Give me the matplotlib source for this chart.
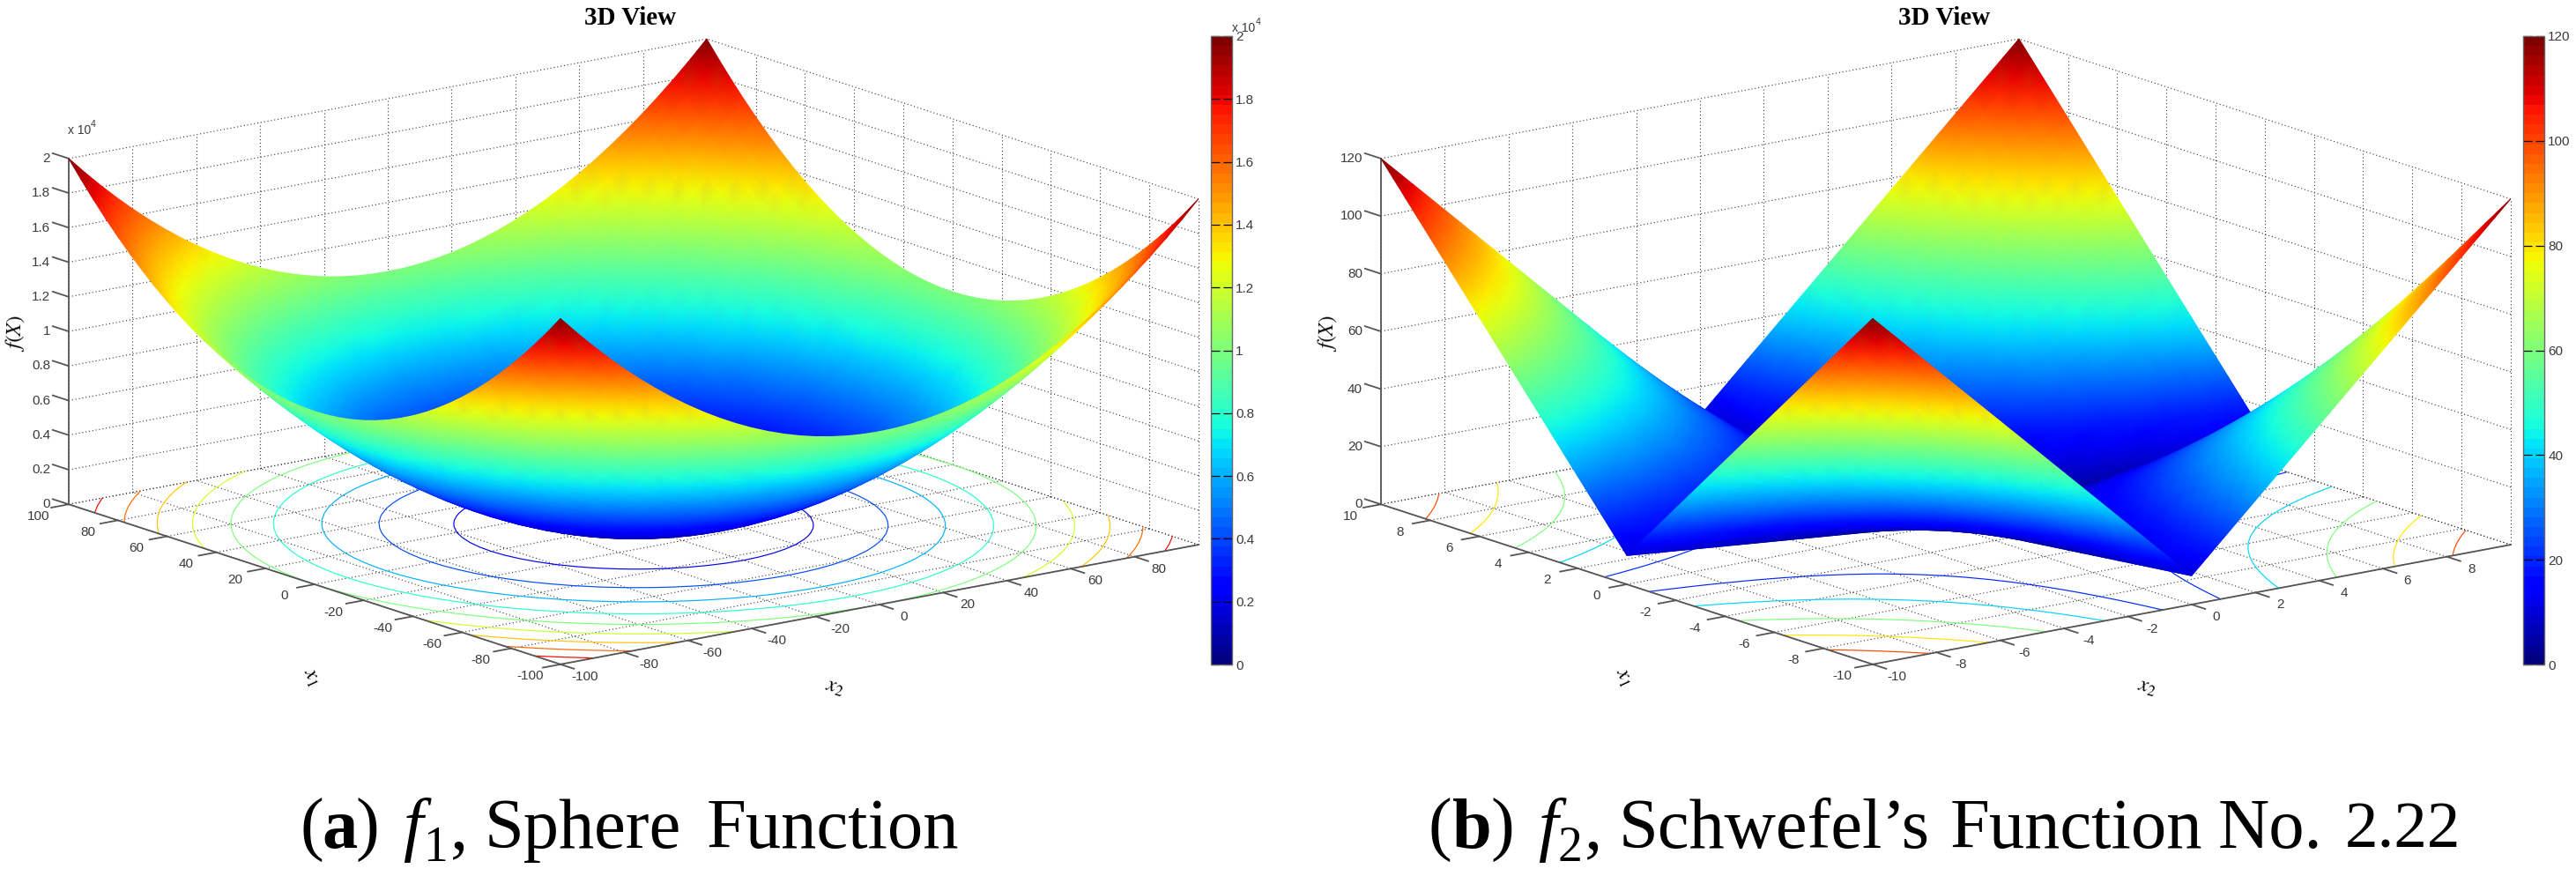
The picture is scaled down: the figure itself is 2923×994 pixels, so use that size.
import numpy as np
import matplotlib
matplotlib.use("Agg")
import matplotlib.pyplot as plt
from matplotlib.cm import ScalarMappable
from matplotlib.colors import Normalize
from matplotlib.tri import Triangulation
from mpl_toolkits.mplot3d import proj3d

W, H = 2923, 994

plt.rcParams['font.family'] = ['Liberation Sans', 'DejaVu Sans']
plt.rcParams['mathtext.fontset'] = 'stix'

# one quadrant (rows x1 >= 0, columns x2 >= 0), the picture is symmetric
grid_f1 = [0, 5, 10, 15, 20, 25, 30, 35, 40, 45, 50, 55, 60, 65, 70, 75, 80, 85, 90, 95, 100]
values_f1 = [
    [0, 25, 100, 225, 400, 625, 900, 1225, 1600, 2025, 2500, 3025, 3600, 4225, 4900, 5625, 6400, 7225, 8100, 9025, 10000],
    [25, 50, 125, 250, 425, 650, 925, 1250, 1625, 2050, 2525, 3050, 3625, 4250, 4925, 5650, 6425, 7250, 8125, 9050, 10025],
    [100, 125, 200, 325, 500, 725, 1000, 1325, 1700, 2125, 2600, 3125, 3700, 4325, 5000, 5725, 6500, 7325, 8200, 9125, 10100],
    [225, 250, 325, 450, 625, 850, 1125, 1450, 1825, 2250, 2725, 3250, 3825, 4450, 5125, 5850, 6625, 7450, 8325, 9250, 10225],
    [400, 425, 500, 625, 800, 1025, 1300, 1625, 2000, 2425, 2900, 3425, 4000, 4625, 5300, 6025, 6800, 7625, 8500, 9425, 10400],
    [625, 650, 725, 850, 1025, 1250, 1525, 1850, 2225, 2650, 3125, 3650, 4225, 4850, 5525, 6250, 7025, 7850, 8725, 9650, 10625],
    [900, 925, 1000, 1125, 1300, 1525, 1800, 2125, 2500, 2925, 3400, 3925, 4500, 5125, 5800, 6525, 7300, 8125, 9000, 9925, 10900],
    [1225, 1250, 1325, 1450, 1625, 1850, 2125, 2450, 2825, 3250, 3725, 4250, 4825, 5450, 6125, 6850, 7625, 8450, 9325, 10250, 11225],
    [1600, 1625, 1700, 1825, 2000, 2225, 2500, 2825, 3200, 3625, 4100, 4625, 5200, 5825, 6500, 7225, 8000, 8825, 9700, 10625, 11600],
    [2025, 2050, 2125, 2250, 2425, 2650, 2925, 3250, 3625, 4050, 4525, 5050, 5625, 6250, 6925, 7650, 8425, 9250, 10125, 11050, 12025],
    [2500, 2525, 2600, 2725, 2900, 3125, 3400, 3725, 4100, 4525, 5000, 5525, 6100, 6725, 7400, 8125, 8900, 9725, 10600, 11525, 12500],
    [3025, 3050, 3125, 3250, 3425, 3650, 3925, 4250, 4625, 5050, 5525, 6050, 6625, 7250, 7925, 8650, 9425, 10250, 11125, 12050, 13025],
    [3600, 3625, 3700, 3825, 4000, 4225, 4500, 4825, 5200, 5625, 6100, 6625, 7200, 7825, 8500, 9225, 10000, 10825, 11700, 12625, 13600],
    [4225, 4250, 4325, 4450, 4625, 4850, 5125, 5450, 5825, 6250, 6725, 7250, 7825, 8450, 9125, 9850, 10625, 11450, 12325, 13250, 14225],
    [4900, 4925, 5000, 5125, 5300, 5525, 5800, 6125, 6500, 6925, 7400, 7925, 8500, 9125, 9800, 10525, 11300, 12125, 13000, 13925, 14900],
    [5625, 5650, 5725, 5850, 6025, 6250, 6525, 6850, 7225, 7650, 8125, 8650, 9225, 9850, 10525, 11250, 12025, 12850, 13725, 14650, 15625],
    [6400, 6425, 6500, 6625, 6800, 7025, 7300, 7625, 8000, 8425, 8900, 9425, 10000, 10625, 11300, 12025, 12800, 13625, 14500, 15425, 16400],
    [7225, 7250, 7325, 7450, 7625, 7850, 8125, 8450, 8825, 9250, 9725, 10250, 10825, 11450, 12125, 12850, 13625, 14450, 15325, 16250, 17225],
    [8100, 8125, 8200, 8325, 8500, 8725, 9000, 9325, 9700, 10125, 10600, 11125, 11700, 12325, 13000, 13725, 14500, 15325, 16200, 17125, 18100],
    [9025, 9050, 9125, 9250, 9425, 9650, 9925, 10250, 10625, 11050, 11525, 12050, 12625, 13250, 13925, 14650, 15425, 16250, 17125, 18050, 19025],
    [10000, 10025, 10100, 10225, 10400, 10625, 10900, 11225, 11600, 12025, 12500, 13025, 13600, 14225, 14900, 15625, 16400, 17225, 18100, 19025, 20000],
]
ticks_f1 = [-100, -80, -60, -40, -20, 0, 20, 40, 60, 80, 100]
zticks_f1 = [0, 2000, 4000, 6000, 8000, 10000, 12000, 14000, 16000, 18000, 20000]
zlabels_f1 = ['0', '0.2', '0.4', '0.6', '0.8', '1', '1.2', '1.4', '1.6', '1.8', '2']
levels_f1 = [2000, 4000, 6000, 8000, 10000, 12000, 14000, 16000, 18000]

grid_f2 = [0, 0.5, 1, 1.5, 2, 2.5, 3, 3.5, 4, 4.5, 5, 5.5, 6, 6.5, 7, 7.5, 8, 8.5, 9, 9.5, 10]
values_f2 = [
    [0, 0.5, 1, 1.5, 2, 2.5, 3, 3.5, 4, 4.5, 5, 5.5, 6, 6.5, 7, 7.5, 8, 8.5, 9, 9.5, 10],
    [0.5, 1.25, 2, 2.75, 3.5, 4.25, 5, 5.75, 6.5, 7.25, 8, 8.75, 9.5, 10.25, 11, 11.75, 12.5, 13.25, 14, 14.75, 15.5],
    [1, 2, 3, 4, 5, 6, 7, 8, 9, 10, 11, 12, 13, 14, 15, 16, 17, 18, 19, 20, 21],
    [1.5, 2.75, 4, 5.25, 6.5, 7.75, 9, 10.25, 11.5, 12.75, 14, 15.25, 16.5, 17.75, 19, 20.25, 21.5, 22.75, 24, 25.25, 26.5],
    [2, 3.5, 5, 6.5, 8, 9.5, 11, 12.5, 14, 15.5, 17, 18.5, 20, 21.5, 23, 24.5, 26, 27.5, 29, 30.5, 32],
    [2.5, 4.25, 6, 7.75, 9.5, 11.25, 13, 14.75, 16.5, 18.25, 20, 21.75, 23.5, 25.25, 27, 28.75, 30.5, 32.25, 34, 35.75, 37.5],
    [3, 5, 7, 9, 11, 13, 15, 17, 19, 21, 23, 25, 27, 29, 31, 33, 35, 37, 39, 41, 43],
    [3.5, 5.75, 8, 10.25, 12.5, 14.75, 17, 19.25, 21.5, 23.75, 26, 28.25, 30.5, 32.75, 35, 37.25, 39.5, 41.75, 44, 46.25, 48.5],
    [4, 6.5, 9, 11.5, 14, 16.5, 19, 21.5, 24, 26.5, 29, 31.5, 34, 36.5, 39, 41.5, 44, 46.5, 49, 51.5, 54],
    [4.5, 7.25, 10, 12.75, 15.5, 18.25, 21, 23.75, 26.5, 29.25, 32, 34.75, 37.5, 40.25, 43, 45.75, 48.5, 51.25, 54, 56.75, 59.5],
    [5, 8, 11, 14, 17, 20, 23, 26, 29, 32, 35, 38, 41, 44, 47, 50, 53, 56, 59, 62, 65],
    [5.5, 8.75, 12, 15.25, 18.5, 21.75, 25, 28.25, 31.5, 34.75, 38, 41.25, 44.5, 47.75, 51, 54.25, 57.5, 60.75, 64, 67.25, 70.5],
    [6, 9.5, 13, 16.5, 20, 23.5, 27, 30.5, 34, 37.5, 41, 44.5, 48, 51.5, 55, 58.5, 62, 65.5, 69, 72.5, 76],
    [6.5, 10.25, 14, 17.75, 21.5, 25.25, 29, 32.75, 36.5, 40.25, 44, 47.75, 51.5, 55.25, 59, 62.75, 66.5, 70.25, 74, 77.75, 81.5],
    [7, 11, 15, 19, 23, 27, 31, 35, 39, 43, 47, 51, 55, 59, 63, 67, 71, 75, 79, 83, 87],
    [7.5, 11.75, 16, 20.25, 24.5, 28.75, 33, 37.25, 41.5, 45.75, 50, 54.25, 58.5, 62.75, 67, 71.25, 75.5, 79.75, 84, 88.25, 92.5],
    [8, 12.5, 17, 21.5, 26, 30.5, 35, 39.5, 44, 48.5, 53, 57.5, 62, 66.5, 71, 75.5, 80, 84.5, 89, 93.5, 98],
    [8.5, 13.25, 18, 22.75, 27.5, 32.25, 37, 41.75, 46.5, 51.25, 56, 60.75, 65.5, 70.25, 75, 79.75, 84.5, 89.25, 94, 98.75, 103.5],
    [9, 14, 19, 24, 29, 34, 39, 44, 49, 54, 59, 64, 69, 74, 79, 84, 89, 94, 99, 104, 109],
    [9.5, 14.75, 20, 25.25, 30.5, 35.75, 41, 46.25, 51.5, 56.75, 62, 67.25, 72.5, 77.75, 83, 88.25, 93.5, 98.75, 104, 109.25, 114.5],
    [10, 15.5, 21, 26.5, 32, 37.5, 43, 48.5, 54, 59.5, 65, 70.5, 76, 81.5, 87, 92.5, 98, 103.5, 109, 114.5, 120],
]
ticks_f2 = [-10, -8, -6, -4, -2, 0, 2, 4, 6, 8, 10]
zticks_f2 = [0, 20, 40, 60, 80, 100, 120]
zlabels_f2 = ['0', '20', '40', '60', '80', '100', '120']
levels_f2 = [20, 40, 60, 80, 100]

TEXT = '#3a3a3a'
AXIS = '#555555'
GRID = '#333333'
DOTS = (0, (1, 2.5))


def px_text(x, y, s, **kw):
    kw.setdefault('color', 'black')
    return fig.text(x / W, 1 - y / H, s, **kw)


def draw_panel(off, grid, values, ticks, zticks, zlabels, levels):
    # mirror the quadrant into the whole surface
    q = np.array(values, dtype=float)
    half = np.array(grid, dtype=float)
    x = np.hstack([-half[:0:-1], half])
    row = np.hstack([q[:, :0:-1], q])
    Z = np.vstack([row[:0:-1], row])
    X1, X2 = np.meshgrid(x, x, indexing='ij')
    xmax = ticks[-1]
    zmax = zticks[-1]
    ux = xmax / 100  # data units per "percent" of the floor
    uz = zmax / 392  # data units per pixel of height

    side = 1400
    rect = [off / W, (595 - 0.5135 * side) / H, side / W, side / H]
    ax = fig.add_axes(rect, projection='3d', computed_zorder=False, proj_type='ortho')
    ax.set_axis_off()
    ax.patch.set_visible(False)
    ax.view_init(elev=14.3, azim=-37.2)
    ax.set_box_aspect((923, 909, 405), zoom=0.941)

    ax.contour(X1, X2, Z, levels=levels, cmap='jet', vmin=0, vmax=zmax,
               zdir='z', offset=0, linewidths=0.85, zorder=2)

    dotted = dict(color=GRID, lw=0.8, ls=DOTS, zorder=1)
    for t in ticks:
        # floor and walls, x1 lines then x2 lines
        ax.plot([t, t], [-xmax, xmax], [0, 0], **dotted)
        ax.plot([t, t], [xmax, xmax], [0, zmax], **dotted)
        ax.plot([-xmax, xmax], [t, t], [0, 0], **dotted)
        ax.plot([xmax, xmax], [t, t], [0, zmax], **dotted)
    for t in zticks:
        ax.plot([xmax, xmax], [-xmax, xmax], [t, t], **dotted)
        ax.plot([-xmax, xmax], [xmax, xmax], [t, t], **dotted)

    # solid axes in front
    solid = dict(color=AXIS, lw=1.3, zorder=3)
    ax.plot([xmax, -xmax], [-xmax, -xmax], [0, 0], **solid)
    ax.plot([-xmax, -xmax], [-xmax, xmax], [0, 0], **solid)
    ax.plot([xmax, xmax], [-xmax, -xmax], [0, zmax], **solid)

    # tick marks
    for t in ticks:
        ax.plot([t, t], [-xmax, -xmax - 5.5 * ux], [0, 0], **solid)
        if t < xmax:
            ax.plot([-xmax, -xmax - 5.5 * ux], [t, t], [0, 0], **solid)
    for t in zticks:
        ax.plot([xmax, xmax + 6.5 * ux], [-xmax, -xmax], [t, t], **solid)

    ax.set_xlim(xmax, -xmax, view_margin=0)
    ax.set_ylim(-xmax, xmax, view_margin=0)
    ax.set_zlim(0, zmax, view_margin=0)
    ax.set_xticks([])
    ax.set_yticks([])
    ax.set_zticks([])

    # surface with vertex colours, drawn back to front on a 2d overlay
    M = ax.get_proj()
    sx, sy, sz = proj3d.proj_transform(X1.ravel(), X2.ravel(), Z.ravel(), M)
    n = len(x)
    idx = np.arange(n * n).reshape(n, n)
    a, b, c, d = idx[:-1, :-1].ravel(), idx[1:, :-1].ravel(), idx[1:, 1:].ravel(), idx[:-1, 1:].ravel()
    tris = np.vstack([np.column_stack([a, b, c]), np.column_stack([a, c, d])])
    tris = tris[np.argsort(-sz[tris].mean(axis=1))]

    over = fig.add_axes(rect)
    over.set_xlim(*ax.viewLim.intervalx)
    over.set_ylim(*ax.viewLim.intervaly)
    over.set_xticks([])
    over.set_yticks([])
    over.set_axis_off()
    over.patch.set_visible(False)
    over.tripcolor(Triangulation(sx, sy, tris), Z.ravel(), shading='gouraud',
                   cmap='jet', vmin=0, vmax=zmax)

    # tick labels, projected so they sit on the overlay as plain text
    def label(x1, x2, z, s, ha='center'):
        tx, ty, _ = proj3d.proj_transform(x1, x2, z, M)
        over.text(float(tx), float(ty), s, color=TEXT, fontsize=11, ha=ha, va='center')

    for t in ticks:
        label(t, -xmax - 9.5 * ux, -7 * uz, str(t))
        if t < xmax:
            label(-xmax - 10 * ux, t, -5 * uz, str(t))
    for t, lab in zip(zticks, zlabels):
        label(xmax + 7.5 * ux, -xmax, t - 7 * uz, lab, ha='right')

    # colorbar
    cax = fig.add_axes([(1374 + off) / W, 1 - 754 / H, 24 / W, 713 / H])
    sm = ScalarMappable(Normalize(0, zmax), plt.get_cmap('jet', 64))
    cb = fig.colorbar(sm, cax=cax)
    cb.set_ticks(zticks, labels=zlabels)
    cb.outline.set_edgecolor('#666666')
    cb.outline.set_linewidth(1.0)
    cax.tick_params(direction='in', left=True, right=True, length=7, width=0.9,
                    color='black', labelcolor=TEXT, labelsize=11, pad=3)
    return ax


fig = plt.figure(figsize=(W / 100, H / 100), dpi=100, facecolor='white')

draw_panel(0, grid_f1, values_f1, ticks_f1, zticks_f1, zlabels_f1, levels_f1)
draw_panel(1489, grid_f2, values_f2, ticks_f2, zticks_f2, zlabels_f2, levels_f2)

# titles and axis names
for off, cx in [(0, 715), (1489, 2206)]:
    px_text(cx, 28, '3D View', family='Liberation Serif', weight='bold', fontsize=21,
            ha='center', va='baseline')
    px_text(18 + off, 378, '$f(X)$', fontsize=17, rotation=88, ha='center', va='center')
    px_text(353 + off, 768, '$x_1$', fontsize=17, rotation=-65, ha='center', va='center')
    px_text(947 + off, 780, '$x_2$', fontsize=17, rotation=-15, ha='center', va='center')

# the x 10^4 scale marks of the left panel
px_text(77, 152, 'x 10', color=TEXT, fontsize=10, va='baseline')
px_text(103, 144, '4', color=TEXT, fontsize=7.5, va='baseline')
px_text(1398, 36, 'x 10', color=TEXT, fontsize=10, va='baseline')
px_text(1425, 28, '4', color=TEXT, fontsize=7.5, va='baseline')

# captions, placed word by word because the original font is wider
serif = dict(family='Liberation Serif', fontsize=58, va='baseline')
for x, s in [(341, '('), (403, ')'), (511, ','), (550, 'Sphere'), (802, 'Function'),
             (1621, '('), (1691, ')'), (1798, ','), (1837, 'Schwefel\u2019s'), (2213, 'Function'),
             (2517, 'No.')]:
    px_text(x, 962, s, **serif)
px_text(2661, 962, '2.22', family='Liberation Serif', fontsize=54, va='baseline')
px_text(365, 962, 'a', weight='bold', **serif)
px_text(1648, 962, 'b', weight='bold', **serif)
px_text(457, 962, 'f', style='italic', **serif)
px_text(1745, 962, 'f', style='italic', **serif)
sub = dict(family='Liberation Serif', fontsize=40, va='baseline')
px_text(480, 977, '1', **sub)
px_text(1767, 977, '2', **sub)

fig.savefig('out.png', dpi=100, facecolor='white')
